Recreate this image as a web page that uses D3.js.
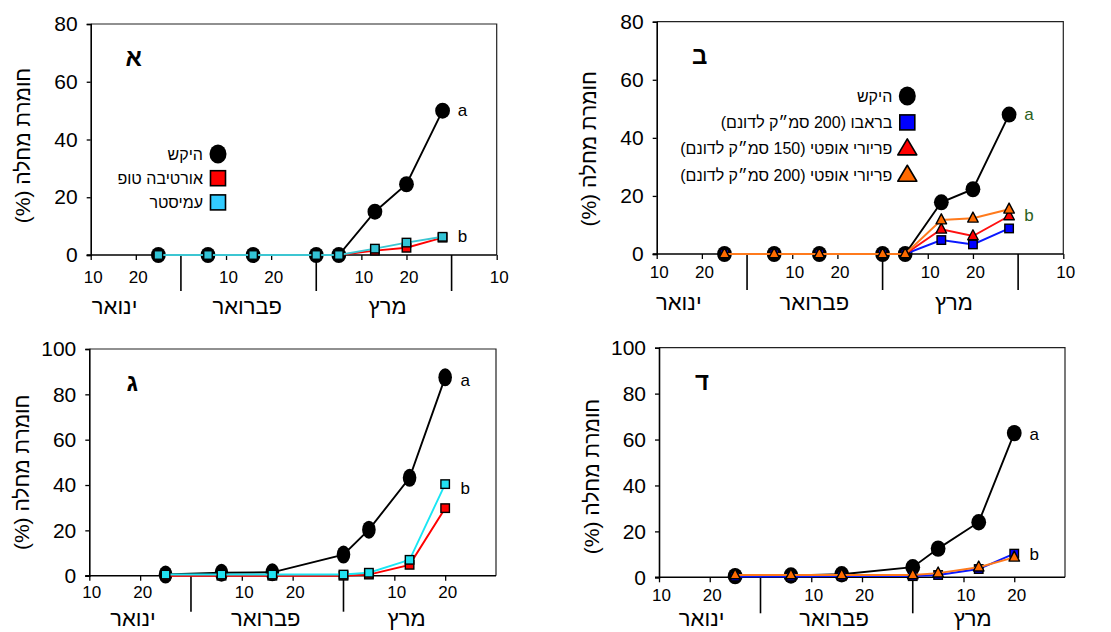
<!DOCTYPE html>
<html>
<head>
<meta charset="utf-8">
<script src="https://cdn.jsdelivr.net/npm/d3@7"></script>
<style>
  body { margin: 0; background: #fff; }
  svg { display: block; }
  text { font-family: "Liberation Sans", Arial, "DejaVu Sans", sans-serif; fill: #000; }
</style>
</head>
<body>
<svg id="chart" width="1111" height="632"></svg>
<script>
// Sampling dates as a day index on a 30-day-per-month calendar
// (January d = d, February d = 30 + d, March d = 60 + d, April d = 90 + d)
const daysTop = [25, 36, 46, 60, 65, 73, 80, 88];
const daysBottom = [25, 36, 46, 60, 65, 73, 80];

// Panel א – disease severity (%)
const controlA = [0, 0, 0, 0, 0, 15, 24.5, 50];
const ortivaA  = [0, 0, 0, 0, 0, 1.5, 2.5, 6];
const amistarA = [0, 0, 0, 0, 0, 2.2, 4.3, 6.3];

// Panel ב
const controlB   = [0, 0, 0, 0, 0, 17.8, 22.3, 48];
const bravoB     = [0, 0, 0, 0, 0, 4.8, 3.3, 8.8];
const priori150B = [0, 0, 0, 0, 0, 8.5, 6.2, 13.1];
const priori200B = [0, 0, 0, 0, 0, 11.7, 12.3, 15.4];

// Panel ג
const controlC = [0.5, 1.3, 1.5, 9.3, 20.3, 43.2, 87.5];
const ortivaC  = [0, 0, 0, 0, 0.5, 4.8, 29.8];
const amistarC = [0.5, 0.5, 0.5, 0.5, 1.3, 7, 40.4];

// Panel ד
const controlD   = [0.5, 0.8, 1.3, 4.4, 12.5, 24, 62.8];
const bravoD     = [0.3, 0.3, 0.5, 0.5, 1, 3.6, 10.3];
const priori200D = [1, 1, 1, 1, 1.8, 4.4, 8.7];

// Treatment names
const namesFungicideA = ["היקש", "אורטיבה טופ", "עמיסטר"];
const namesFungicideB = ["היקש", "בראבו (200 סמ״ק לדונם)", "פריורי אופטי (150 סמ״ק לדונם)", "פריורי אופטי (200 סמ״ק לדונם)"];

// Axis ticks and labels
const yTicksTop = [0, 20, 40, 60, 80];
const yTicksBottom = [0, 20, 40, 60, 80, 100];
const dayTicksTop = [10, 20, 40, 50, 70, 80, 100];
const dayTicksBottom = [10, 20, 40, 50, 70, 80];
const dayTickLabelsTop = ["10", "20", "10", "20", "10", "20", "10"];
const dayTickLabelsBottom = ["10", "20", "10", "20", "10", "20"];
const monthNames = ["ינואר", "פברואר", "מרץ"];
const monthEndsTop = [30, 60, 90];
const monthEndsBottom = [30, 60];
const panelLetters = ["א", "ב", "ג", "ד"];
const sigLetters = ["a", "b"];
const yTitle = "חומרת מחלה (%)";

// Marker / line styles per treatment
const styles = {
  control:   { line: "#000000", fill: "#000000", shape: "circle" },
  ortiva:    { line: "#ff0000", fill: "#ff0000", shape: "square" },
  amistarA:  { line: "#3cc6d2", fill: "#33c4d6", legendFill: "#33ccff", shape: "square" },
  amistarC:  { line: "#19e6f4", fill: "#22e2f2", shape: "square" },
  bravo:     { line: "#0a18ff", fill: "#0000ff", shape: "square" },
  priori150: { line: "#ff1010", fill: "#ff0000", shape: "triangle" },
  priori200: { line: "#ff7a1c", fill: "#ff6a00", shape: "triangle" }
};

const panels = [
  {
    letter: panelLetters[0], box: { x0: 90.7, x1: 496.7, y0: 24, y1: 255 },
    yTicks: yTicksTop, xDomain: [10, 100], dayTicks: dayTicksTop, dayLabels: dayTickLabelsTop,
    monthEnds: monthEndsTop, monthAt: [15.3, 44.7, 75.8], days: daysTop,
    series: [
      { values: controlA, style: "control", name: namesFungicideA[0] },
      { values: ortivaA, style: "ortiva", name: namesFungicideA[1] },
      { values: amistarA, style: "amistarA", name: namesFungicideA[2] }
    ],
    legend: { x: 218, y: 154, step: 24.2 },
    sig: [50, 6.3], sigColor: "#000", tickDy: 28.3, monthDy: 59, markerR: [7.4, 8], titleDy: 6
  },
  {
    letter: panelLetters[1], box: { x0: 656.7, x1: 1063.3, y0: 21.7, y1: 254 },
    yTicks: yTicksTop, xDomain: [10, 100], dayTicks: dayTicksTop, dayLabels: dayTickLabelsTop,
    monthEnds: monthEndsTop, monthAt: [14.9, 44.9, 75.8], days: daysTop,
    series: [
      { values: controlB, style: "control", name: namesFungicideB[0] },
      { values: bravoB, style: "bravo", name: namesFungicideB[1] },
      { values: priori150B, style: "priori150", name: namesFungicideB[2] },
      { values: priori200B, style: "priori200", name: namesFungicideB[3] }
    ],
    legend: { x: 907.3, y: 96, step: 26.4 },
    sig: [48, 13.3], sigColor: "#2b5f22", tickDy: 24, monthDy: 55.5, markerR: [7.4, 8], titleDy: 11
  },
  {
    letter: panelLetters[2], box: { x0: 89.3, x1: 496, y0: 349, y1: 575.7 },
    yTicks: yTicksBottom, xDomain: [10, 90], dayTicks: dayTicksBottom, dayLabels: dayTickLabelsBottom,
    monthEnds: monthEndsBottom, monthAt: [18.6, 44.7, 72.4], days: daysBottom,
    series: [
      { values: controlC, style: "control" },
      { values: ortivaC, style: "ortiva" },
      { values: amistarC, style: "amistarC" }
    ],
    legend: null,
    sig: [86, 38.5], sigColor: "#000", tickDy: 22.7, monthDy: 50.5, markerR: [6.8, 9], titleDy: 10
  },
  {
    letter: panelLetters[3], box: { x0: 659, x1: 1065, y0: 347.7, y1: 577.3 },
    yTicks: yTicksBottom, xDomain: [10, 90], dayTicks: dayTicksBottom, dayLabels: dayTickLabelsBottom,
    monthEnds: monthEndsBottom, monthAt: [18.4, 44.5, 71.8], days: daysBottom,
    series: [
      { values: controlD, style: "control" },
      { values: bravoD, style: "bravo" },
      { values: priori200D, style: "priori200" }
    ],
    legend: null,
    sig: [62.2, 9.8], sigColor: "#000", tickDy: 23.4, monthDy: 49, markerR: [7.4, 8.2], titleDy: 14
  }
];

const svg = d3.select("#chart");

function trianglePath(w, h) {
  return `M0,${-h * 0.62}L${w / 2},${h * 0.38}L${-w / 2},${h * 0.38}Z`;
}

function drawMarker(g, shape, cx, cy, fill, size) {
  if (shape === "circle") {
    g.append("ellipse").attr("cx", cx).attr("cy", cy)
      .attr("rx", size.rx).attr("ry", size.ry).attr("fill", fill);
  } else if (shape === "square") {
    g.append("rect").attr("x", cx - size.sq / 2).attr("y", cy - size.sq / 2)
      .attr("width", size.sq).attr("height", size.sq)
      .attr("fill", fill).attr("stroke", "#000").attr("stroke-width", size.sw);
  } else {
    g.append("path").attr("d", trianglePath(size.tw, size.th))
      .attr("transform", `translate(${cx},${cy})`)
      .attr("fill", fill).attr("stroke", "#000").attr("stroke-width", size.sw)
      .attr("stroke-linejoin", "round");
  }
}

panels.forEach(p => {
  const b = p.box;
  const x = d3.scaleLinear().domain(p.xDomain).range([b.x0, b.x1]);
  const ymax = p.yTicks[p.yTicks.length - 1];
  const y = d3.scaleLinear().domain([0, ymax]).range([b.y1, b.y0]);
  const g = svg.append("g");

  // Frame (top and right edges)
  g.append("path")
    .attr("d", `M${b.x0},${b.y0}H${b.x1}V${b.y1}`)
    .attr("fill", "none").attr("stroke", "#222").attr("stroke-width", 1.2);

  // Y axis
  const yAxis = d3.axisLeft(y).tickValues(p.yTicks).tickSize(4).tickPadding(9).tickFormat(d3.format("d"));
  const ya = g.append("g").attr("transform", `translate(${b.x0},0)`).call(yAxis);
  ya.select(".domain").attr("stroke", "#000").attr("stroke-width", 1.6);
  ya.selectAll(".tick line").attr("stroke", "#000").attr("stroke-width", 1.3);
  ya.selectAll(".tick text").attr("font-size", 21).attr("fill", "#000")
    .attr("font-family", "'Liberation Sans', Arial, sans-serif");

  // X axis (day-of-month ticks)
  const xAxis = d3.axisBottom(x).tickValues(p.dayTicks).tickSize(5)
    .tickFormat((d, i) => p.dayLabels[i]);
  const xa = g.append("g").attr("transform", `translate(0,${b.y1})`).call(xAxis);
  xa.select(".domain").attr("stroke", "#000").attr("stroke-width", 1.6)
    .attr("d", `M${b.x0 - 4},0H${b.x1}`);
  xa.selectAll(".tick line").attr("stroke", "#000").attr("stroke-width", 1.3);
  xa.selectAll(".tick text").attr("font-size", 17).attr("fill", "#000")
    .attr("y", null).attr("dy", null).attr("dx", 2)
    .attr("transform", `translate(0,${p.tickDy})`)
    .attr("font-family", "'Liberation Sans', Arial, sans-serif");

  // Month separators
  g.selectAll(".sep").data(p.monthEnds).join("line")
    .attr("x1", d => x(d)).attr("x2", d => x(d))
    .attr("y1", b.y1).attr("y2", b.y1 + 36)
    .attr("stroke", "#000").attr("stroke-width", 1.6);

  // Month names
  g.selectAll(".month").data(monthNames).join("text")
    .attr("x", (d, i) => x(p.monthAt[i])).attr("y", b.y1 + p.monthDy)
    .attr("text-anchor", "middle").attr("font-size", 22)
    .text(d => d);

  // Y title
  const tx = b.x0 - 68, ty = (b.y0 + b.y1) / 2 + p.titleDy;
  g.append("text")
    .attr("transform", `translate(${tx},${ty}) rotate(-90)`)
    .attr("text-anchor", "middle").attr("dominant-baseline", "central")
    .attr("direction", "rtl").style("unicode-bidi", "embed")
    .attr("font-size", 21).text(yTitle);

  // Panel letter
  g.append("text").attr("x", b.x0 + 43).attr("y", b.y0 + 42)
    .attr("text-anchor", "middle").attr("font-size", 24).attr("font-weight", "bold")
    .text(p.letter);

  // Series
  const line = d3.line().x((d, i) => x(p.days[i])).y(d => y(d));
  const size = { rx: p.markerR[0], ry: p.markerR[1], sq: 8.5, sw: 1.4, tw: 10.5, th: 10 };
  p.series.forEach(s => {
    const st = styles[s.style];
    g.append("path").datum(s.values).attr("d", line)
      .attr("fill", "none").attr("stroke", st.line).attr("stroke-width", 1.9);
    const mg = g.append("g");
    s.values.forEach((v, i) => drawMarker(mg, st.shape, x(p.days[i]), y(v), st.fill, size));
  });

  // Significance letters
  const lastX = x(p.days[p.days.length - 1]) + 20;
  sigLetters.forEach((t, i) => {
    g.append("text").attr("x", lastX).attr("y", y(p.sig[i]))
      .attr("text-anchor", "middle").attr("dominant-baseline", "central")
      .attr("font-size", 17).style("fill", p.sigColor).text(t);
  });

  // Legend
  if (p.legend) {
    const L = p.legend;
    const lsize = { rx: 8.5, ry: 9.5, sq: 15, sw: 1.6, tw: 19, th: 16 };
    p.series.forEach((s, i) => {
      const st = styles[s.style];
      const cy = L.y + i * L.step;
      drawMarker(g, st.shape, L.x, cy, st.legendFill || st.fill, lsize);
      g.append("text").attr("x", L.x - 15).attr("y", cy)
        .attr("dominant-baseline", "central")
        .attr("direction", "rtl").style("unicode-bidi", "embed")
        .attr("text-anchor", "start")
        .attr("font-size", 16).text(s.name);
    });
  }
});
</script>
</body>
</html>
